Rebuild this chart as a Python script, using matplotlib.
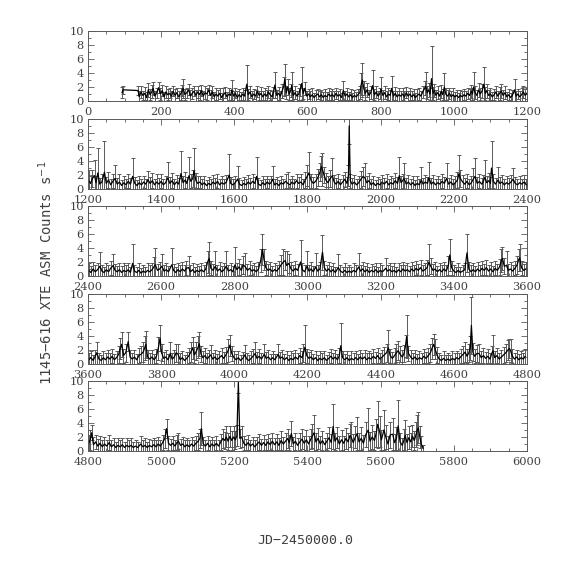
import numpy as np
import matplotlib
matplotlib.use("Agg")
import matplotlib.pyplot as plt
from matplotlib.ticker import MultipleLocator

# (JD-2450000, rate, error), one list per panel
p1 = [(93,1.2,0.8),(96,1.6,0.6),(137,1.5,0.7),(140,0.6,0.9),(145,1.3,0.8),(150,0.8,0.7),(155,1.1,0.9),(160,0.5,0.8),(165,1.6,1.0),(170,0.9,0.8),(175,1.4,0.9),(178,1.8,0.9),(183,0.7,0.8),(188,1.2,0.7),(193,1.9,0.8),(198,1.0,0.9),(203,1.5,0.8),(208,0.6,0.7),(213,1.3,0.9),(218,0.9,0.8),(223,1.1,0.7),(228,0.7,0.8),(233,1.4,0.7),(238,0.8,0.9),(243,1.2,0.7),(248,0.6,0.8),(253,1.0,0.9),(258,1.5,0.8),(260,1.8,1.4),(265,0.9,0.8),(270,1.2,0.7),(275,1.6,0.8),(280,0.7,0.9),(285,1.1,0.8),(290,1.4,0.7),(295,0.8,0.8),(300,1.3,0.9),(305,0.9,0.7),(310,1.5,0.8),(315,0.7,0.7),(320,1.2,0.9),(325,1.0,0.8),(330,1.6,0.7),(335,0.8,0.8),(340,1.3,0.9),(345,0.6,0.7),(350,1.0,0.8),(355,0.7,0.9),(360,1.1,0.8),(365,0.5,0.7),(370,0.9,0.9),(375,1.2,0.8),(380,0.6,0.7),(385,1.0,0.9),(390,0.8,0.8),(393,1.6,1.4),(398,0.7,0.8),(403,1.1,0.7),(408,0.5,0.9),(413,0.9,0.8),(418,0.6,0.7),(423,1.0,0.8),(428,0.7,0.9),(434,2.4,2.8),(438,0.9,0.8),(443,1.3,0.9),(448,0.6,0.8),(453,1.0,0.7),(458,0.7,0.9),(463,1.4,0.8),(468,0.8,0.7),(473,1.1,0.9),(478,0.6,0.8),(483,1.0,0.8),(488,0.7,0.9),(493,1.3,0.8),(498,0.9,0.7),(503,0.6,0.9),(507,1.2,0.8),(511,2.3,1.9),(516,0.8,0.8),(521,1.1,0.9),(526,0.7,0.8),(531,1.5,1.0),(535,2.1,1.4),(538,3.1,2.2),(542,1.2,0.9),(546,2.0,1.2),(550,1.0,0.8),(554,1.5,0.9),(557,2.2,2.0),(561,0.8,0.8),(566,1.2,0.9),(571,0.7,0.8),(576,1.0,0.9),(580,1.6,0.9),(584,2.5,2.4),(588,1.1,0.8),(593,1.8,0.9),(598,0.7,0.8),(603,1.0,0.7),(608,0.6,0.8),(613,0.9,0.9),(618,0.5,0.7),(623,0.8,0.8),(628,1.0,0.7),(633,0.6,0.8),(638,0.9,0.7),(643,0.5,0.8),(648,0.8,0.9),(653,0.6,0.7),(658,1.0,0.8),(663,0.7,0.7),(668,0.9,0.8),(673,0.6,0.9),(678,1.1,0.8),(683,0.7,0.7),(688,0.9,0.8),(693,0.5,0.7),(698,1.5,1.3),(703,0.7,0.8),(708,1.0,0.9),(713,0.6,0.7),(718,0.9,0.8),(723,0.5,0.7),(728,0.8,0.8),(733,0.6,0.7),(738,0.9,0.8),(743,1.2,0.9),(747,2.4,1.6),(750,3.0,2.4),(754,1.8,1.0),(758,1.1,0.9),(763,1.6,1.0),(768,0.8,0.8),(773,1.2,0.9),(778,2.2,2.3),(783,0.9,0.8),(788,1.3,0.9),(793,0.7,0.8),(798,1.1,0.8),(801,1.7,1.7),(806,0.8,0.8),(811,1.2,0.9),(816,0.6,0.8),(821,1.0,0.9),(826,0.8,0.8),(830,1.8,1.8),(835,0.7,0.8),(840,1.1,0.9),(845,0.6,0.8),(850,0.9,0.9),(855,0.7,0.8),(860,1.0,0.8),(865,0.6,0.9),(870,1.2,0.8),(875,0.7,0.7),(880,1.0,0.9),(885,0.6,0.8),(890,0.9,0.8),(895,0.5,0.7),(900,0.8,0.9),(905,1.0,0.8),(910,0.7,0.7),(915,1.3,0.9),(920,1.8,1.0),(923,2.1,2.1),(927,1.2,0.9),(931,1.6,1.0),(935,1.0,0.8),(939,3.2,4.7),(943,1.1,0.9),(947,1.5,0.9),(951,0.8,0.8),(956,1.2,0.9),(961,0.7,0.8),(966,1.4,0.9),(970,0.9,0.8),(974,2.0,2.0),(978,1.0,0.8),(983,0.7,0.9),(988,1.1,0.8),(993,0.6,0.8),(998,0.9,0.9),(1003,0.6,0.7),(1008,0.8,0.8),(1013,0.5,0.7),(1018,0.8,0.8),(1023,0.6,0.9),(1028,0.9,0.8),(1033,0.7,0.7),(1038,1.1,0.8),(1043,0.8,0.9),(1048,1.4,0.9),(1051,1.0,0.8),(1054,2.0,2.1),(1058,1.2,0.9),(1063,0.8,0.8),(1068,1.6,1.0),(1072,1.0,0.9),(1077,1.4,1.0),(1082,2.4,2.4),(1086,1.1,0.9),(1090,1.5,1.0),(1095,0.8,0.8),(1100,1.0,0.9),(1105,0.6,0.7),(1110,0.9,0.8),(1115,1.3,0.9),(1120,0.7,0.8),(1125,1.1,0.9),(1130,1.4,1.0),(1135,0.8,0.8),(1140,1.2,0.9),(1145,0.6,0.7),(1150,0.9,0.8),(1155,0.5,0.7),(1160,0.8,0.8),(1166,1.6,1.6),(1170,0.7,0.8),(1175,1.0,0.7),(1180,0.6,0.8),(1185,0.9,0.9),(1190,1.3,0.8),(1195,0.8,0.9),(1199,1.1,0.8)]

p2 = [(1202,1.2,1.5),(1207,0.8,1.0),(1212,1.5,1.2),(1218,1.9,2.2),(1222,0.9,1.0),(1227,2.3,3.5),(1232,0.7,0.9),(1238,1.0,1.1),(1245,2.4,4.4),(1250,0.8,0.9),(1256,1.3,1.2),(1262,0.6,0.8),(1268,1.1,1.0),(1274,1.5,1.9),(1280,0.7,0.9),(1286,1.0,1.1),(1292,0.5,0.8),(1298,0.9,1.0),(1304,0.6,0.8),(1310,1.1,1.0),(1316,0.7,0.9),(1322,1.8,2.6),(1328,0.8,0.9),(1334,0.5,0.8),(1340,0.9,1.0),(1346,0.6,0.8),(1352,1.0,0.9),(1358,0.7,0.8),(1364,1.3,1.3),(1370,0.8,0.9),(1376,1.2,1.1),(1382,0.6,0.8),(1388,1.0,1.2),(1394,0.7,0.9),(1400,1.1,1.0),(1406,0.6,0.8),(1412,0.9,1.0),(1418,1.6,2.3),(1424,0.8,0.9),(1430,1.2,1.1),(1436,0.6,0.9),(1442,1.0,1.0),(1448,0.7,0.9),(1454,2.2,3.2),(1460,0.9,1.0),(1466,1.3,1.1),(1470,0.8,0.9),(1476,1.9,2.7),(1481,1.1,1.0),(1486,1.5,1.2),(1490,2.6,3.3),(1495,1.2,1.1),(1500,0.8,1.0),(1506,1.0,0.9),(1512,0.6,0.8),(1518,0.9,1.0),(1524,0.5,0.8),(1530,0.8,0.9),(1536,0.6,0.8),(1542,1.0,1.0),(1548,0.7,0.9),(1554,1.1,1.0),(1560,0.6,0.8),(1566,0.9,0.9),(1572,0.7,0.8),(1578,1.0,1.0),(1586,2.0,3.0),(1590,0.8,0.9),(1596,0.6,0.8),(1602,0.9,1.0),(1609,1.4,1.9),(1614,0.7,0.9),(1620,0.5,0.8),(1626,0.8,0.9),(1632,0.6,0.8),(1638,1.0,1.0),(1644,0.7,0.9),(1650,1.1,1.0),(1656,0.8,0.9),(1661,1.8,2.8),(1666,0.7,0.9),(1672,0.5,0.8),(1678,0.9,1.0),(1684,0.6,0.8),(1690,1.0,0.9),(1696,0.7,0.8),(1700,0.9,1.0),(1705,1.4,1.9),(1710,0.6,0.8),(1716,0.8,0.9),(1722,0.5,0.8),(1728,0.9,1.0),(1734,0.7,0.8),(1740,1.1,1.0),(1746,0.8,1.6),(1752,0.6,0.8),(1758,1.0,0.9),(1764,0.7,0.8),(1770,1.2,1.0),(1776,0.8,0.9),(1782,1.0,1.1),(1788,0.6,0.8),(1794,1.3,1.1),(1800,1.9,1.5),(1804,2.3,3.0),(1810,1.2,1.0),(1816,0.8,0.9),(1822,1.1,1.0),(1828,1.6,1.2),(1834,2.4,1.3),(1838,3.2,1.5),(1841,2.8,2.3),(1845,2.0,1.2),(1850,1.3,1.0),(1856,0.9,0.9),(1862,1.5,1.2),(1868,1.9,2.6),(1873,1.0,1.0),(1878,0.7,0.9),(1884,1.1,1.0),(1890,0.6,0.8),(1896,1.0,1.0),(1902,1.4,1.1),(1908,0.8,0.9),(1912,2.0,1.5),(1914,9.0,2.5),(1917,1.2,1.0),(1922,0.7,0.9),(1928,1.0,1.0),(1934,0.6,0.8),(1940,0.9,0.9),(1946,1.4,1.2),(1952,1.8,1.3),(1957,1.6,2.1),(1962,0.9,1.0),(1968,1.2,1.1),(1974,0.6,0.8),(1980,0.9,1.0),(1986,0.5,0.8),(1992,0.8,0.9),(1998,0.6,0.8),(2004,1.0,1.0),(2010,0.7,0.9),(2016,1.1,1.0),(2022,0.6,0.8),(2028,0.9,1.0),(2034,0.7,0.9),(2040,1.2,1.1),(2046,0.8,0.9),(2051,1.9,2.7),(2056,0.9,1.0),(2060,1.2,1.0),(2064,1.5,2.2),(2070,0.7,0.9),(2076,1.0,1.0),(2082,0.6,0.8),(2088,0.9,0.9),(2094,0.5,0.8),(2100,0.8,1.0),(2106,0.6,0.8),(2111,1.3,1.9),(2116,0.7,0.9),(2122,1.0,1.0),(2128,0.8,0.9),(2132,1.6,2.2),(2138,0.7,0.9),(2144,1.0,1.0),(2150,0.6,0.8),(2156,0.9,0.9),(2162,0.7,0.8),(2168,1.1,1.0),(2174,0.8,0.9),(2180,1.5,2.2),(2186,0.7,0.9),(2192,1.0,1.0),(2198,0.6,0.8),(2204,0.9,1.0),(2210,1.3,1.1),(2214,2.2,2.7),(2218,1.5,1.2),(2224,1.0,1.0),(2230,0.7,0.9),(2236,1.1,1.0),(2242,0.6,0.8),(2248,0.9,1.0),(2253,1.4,1.6),(2258,1.8,2.6),(2264,0.8,0.9),(2270,1.1,1.0),(2276,0.7,0.9),(2280,1.0,1.0),(2285,1.7,2.5),(2290,0.9,1.0),(2296,1.2,1.1),(2300,0.8,0.9),(2303,3.0,3.9),(2308,1.1,1.0),(2314,0.7,0.9),(2321,1.3,1.8),(2326,0.8,0.9),(2332,1.0,1.0),(2338,0.6,0.8),(2344,0.9,1.0),(2350,0.7,0.9),(2356,1.0,1.0),(2362,1.4,1.6),(2368,0.8,0.9),(2374,0.6,0.8),(2380,0.9,1.0),(2386,0.7,0.8),(2392,1.0,1.0),(2398,0.6,0.9)]

p3 = [(2402,0.8,1.0),(2408,0.5,0.9),(2414,1.0,1.0),(2420,0.6,0.9),(2426,0.9,1.0),(2433,1.4,2.0),(2438,0.7,0.9),(2444,0.5,0.8),(2450,0.9,1.0),(2456,0.6,0.9),(2462,1.1,1.0),(2469,1.5,1.6),(2474,0.8,0.9),(2480,0.6,0.8),(2486,0.9,1.0),(2492,0.5,0.9),(2498,0.8,1.0),(2504,0.6,0.9),(2510,0.9,1.0),(2516,0.5,0.8),(2522,1.8,2.8),(2527,0.7,0.9),(2533,0.5,0.8),(2539,0.8,1.0),(2545,0.4,0.8),(2551,0.7,0.9),(2557,0.5,0.8),(2563,0.8,1.0),(2569,0.6,0.9),(2575,0.9,1.0),(2580,1.3,1.4),(2584,1.6,2.4),(2590,0.8,0.9),(2596,1.0,1.0),(2602,1.4,1.8),(2608,0.7,0.9),(2614,0.9,1.0),(2620,0.6,0.8),(2629,1.6,2.4),(2634,0.8,0.9),(2640,0.5,0.8),(2646,0.9,1.0),(2652,0.6,0.9),(2658,1.0,1.0),(2664,0.7,0.9),(2669,1.1,1.0),(2675,1.2,1.7),(2680,0.6,0.9),(2686,0.9,1.0),(2692,0.5,0.8),(2698,0.8,0.9),(2704,0.6,0.8),(2710,0.9,1.0),(2716,0.6,0.9),(2722,1.0,1.0),(2727,2.0,1.6),(2731,2.5,2.4),(2736,1.1,1.0),(2742,0.8,0.9),(2748,1.4,2.1),(2754,0.7,0.9),(2760,1.0,1.0),(2766,0.6,0.8),(2772,0.9,1.0),(2778,1.4,2.1),(2784,0.7,0.9),(2790,0.9,1.0),(2796,0.6,0.8),(2802,1.6,2.5),(2807,0.9,1.0),(2813,1.3,1.1),(2819,0.8,0.9),(2824,1.6,1.3),(2830,1.3,2.0),(2836,0.8,0.9),(2842,1.1,1.0),(2848,0.7,0.9),(2854,0.9,1.0),(2860,0.6,0.8),(2866,1.0,1.0),(2872,2.2,1.6),(2877,3.8,2.2),(2881,2.4,1.5),(2886,1.2,1.0),(2892,0.8,0.9),(2898,1.0,1.0),(2904,0.6,0.8),(2910,0.9,1.0),(2916,0.7,0.9),(2922,1.1,1.0),(2928,1.6,1.4),(2934,2.0,1.8),(2939,2.2,1.3),(2943,1.5,2.0),(2949,1.8,1.4),(2955,1.0,1.0),(2961,0.7,0.9),(2967,1.1,1.0),(2973,0.8,0.9),(2981,2.0,3.2),(2986,0.9,1.0),(2992,0.6,0.9),(2999,1.4,2.1),(3004,0.7,0.9),(3010,1.0,1.0),(3016,0.6,0.8),(3022,1.3,2.0),(3028,0.7,0.9),(3034,1.0,1.0),(3041,3.4,2.5),(3046,1.2,1.0),(3052,0.7,0.9),(3058,1.0,1.0),(3064,0.6,0.8),(3070,0.9,1.0),(3076,0.5,0.8),(3084,1.2,2.0),(3090,0.7,0.9),(3096,0.5,0.8),(3102,0.8,1.0),(3108,0.5,0.8),(3114,0.7,0.9),(3120,0.5,0.8),(3126,0.8,1.0),(3132,0.6,0.9),(3140,1.3,2.0),(3145,0.7,0.9),(3151,1.0,1.0),(3157,0.6,0.8),(3163,0.9,1.0),(3169,0.5,0.8),(3175,0.8,0.9),(3181,0.6,0.8),(3187,0.9,1.0),(3193,0.5,0.8),(3199,0.8,1.0),(3205,0.6,0.9),(3214,1.1,1.4),(3219,0.7,0.9),(3225,0.9,1.0),(3231,0.6,0.8),(3237,0.8,1.0),(3243,0.5,0.8),(3249,0.9,1.0),(3255,0.6,0.9),(3261,1.0,1.0),(3267,0.7,0.9),(3273,0.9,1.0),(3279,0.6,0.8),(3285,1.0,1.0),(3291,0.7,0.9),(3297,1.1,1.0),(3303,0.8,0.9),(3309,1.2,1.1),(3315,0.7,0.9),(3321,0.9,1.0),(3327,1.2,1.1),(3332,2.0,2.5),(3337,1.4,1.1),(3343,0.8,0.9),(3349,1.0,1.0),(3355,0.6,0.8),(3361,0.9,1.0),(3367,0.6,0.9),(3373,1.0,1.0),(3379,0.7,0.9),(3385,1.5,1.3),(3389,3.0,2.3),(3394,1.2,1.0),(3400,0.7,0.9),(3406,0.5,0.8),(3412,0.8,1.0),(3418,0.5,0.8),(3424,0.7,0.9),(3430,0.9,1.0),(3436,3.3,2.7),(3441,1.0,1.0),(3447,0.6,0.9),(3453,0.9,1.0),(3459,0.6,0.8),(3465,1.0,1.0),(3471,0.7,0.9),(3477,1.1,1.0),(3483,0.8,0.9),(3489,1.2,1.1),(3495,0.7,0.9),(3501,1.0,1.0),(3507,0.6,0.8),(3513,1.1,1.0),(3519,0.8,0.9),(3525,1.3,1.1),(3530,2.2,1.6),(3533,2.5,1.6),(3538,1.4,1.1),(3544,1.5,2.0),(3549,0.8,0.9),(3555,1.0,1.0),(3561,0.7,0.9),(3567,1.1,1.0),(3573,1.6,1.3),(3577,2.3,1.6),(3580,2.6,1.9),(3585,1.2,1.0),(3591,0.8,0.9),(3597,1.0,1.0)]

p4 = [(3602,0.6,0.9),(3608,0.9,1.0),(3614,0.5,0.8),(3619,1.0,1.0),(3624,1.6,1.6),(3630,0.7,0.9),(3636,0.5,0.8),(3642,0.9,1.0),(3648,0.6,0.9),(3654,1.0,1.0),(3660,0.7,0.9),(3666,1.1,1.0),(3672,0.6,0.8),(3678,0.9,1.0),(3684,1.4,1.2),(3688,2.2,1.5),(3692,2.8,1.8),(3697,1.2,1.0),(3703,1.6,1.3),(3710,3.2,1.4),(3715,1.0,1.0),(3721,0.7,0.9),(3727,1.0,1.0),(3733,0.6,0.8),(3739,1.2,1.1),(3745,1.4,1.1),(3751,1.7,1.4),(3755,2.3,1.7),(3758,2.8,1.9),(3763,1.0,1.0),(3769,0.7,0.9),(3775,1.0,1.0),(3781,0.6,0.8),(3787,1.1,1.0),(3792,2.2,1.6),(3797,3.7,1.9),(3801,1.6,1.2),(3807,0.8,0.9),(3813,1.0,1.0),(3819,0.6,0.8),(3825,1.5,1.6),(3830,0.7,0.9),(3836,1.0,1.0),(3841,1.6,1.3),(3846,1.4,1.5),(3852,0.6,0.9),(3858,0.9,1.0),(3864,0.5,0.8),(3870,0.8,0.9),(3876,1.2,1.1),(3881,1.7,1.4),(3886,2.3,1.6),(3891,1.3,1.1),(3896,1.8,1.3),(3901,2.4,1.6),(3904,2.9,1.7),(3909,1.4,1.1),(3914,0.9,1.0),(3920,1.2,1.1),(3926,0.7,0.9),(3930,1.0,1.0),(3935,1.3,1.4),(3941,0.7,0.9),(3947,1.0,1.0),(3953,0.6,0.8),(3959,0.9,1.0),(3965,1.2,1.1),(3971,0.8,0.9),(3977,1.3,1.1),(3983,1.9,1.6),(3988,2.7,1.5),(3993,1.5,1.1),(3999,0.9,1.0),(4005,0.6,0.8),(4011,0.9,1.0),(4017,0.5,0.8),(4023,0.8,0.9),(4029,1.3,1.4),(4034,0.7,0.9),(4040,0.5,0.8),(4046,0.8,1.0),(4051,1.1,1.0),(4057,1.5,1.6),(4062,0.8,0.9),(4068,1.1,1.0),(4074,0.7,0.9),(4082,1.4,1.5),(4087,0.8,0.9),(4093,1.0,1.0),(4099,0.6,0.8),(4105,0.9,1.0),(4111,0.6,0.8),(4120,1.4,1.5),(4125,0.8,0.9),(4131,1.0,1.0),(4137,0.6,0.8),(4143,0.9,1.0),(4149,0.5,0.8),(4155,0.8,1.0),(4161,0.6,0.9),(4167,1.0,1.0),(4173,0.7,0.9),(4179,1.2,1.1),(4185,0.9,1.0),(4189,1.6,1.3),(4193,2.4,3.1),(4198,1.2,1.0),(4204,0.8,0.9),(4210,1.0,1.0),(4216,0.6,0.8),(4222,0.9,1.0),(4228,0.5,0.8),(4234,0.8,1.0),(4240,0.6,0.9),(4246,0.9,1.0),(4252,0.5,0.8),(4258,0.8,0.9),(4264,1.1,1.0),(4270,0.7,0.9),(4276,1.0,1.0),(4282,0.6,0.8),(4287,1.2,1.1),(4291,2.6,3.2),(4296,0.9,1.0),(4302,0.6,0.8),(4308,0.9,1.0),(4314,0.5,0.8),(4320,0.8,1.0),(4326,0.6,0.9),(4332,0.9,1.0),(4338,0.6,0.8),(4344,1.0,1.0),(4350,0.7,0.9),(4356,1.0,1.0),(4362,0.6,0.9),(4368,0.9,1.0),(4374,0.7,0.9),(4380,1.1,1.0),(4386,0.8,0.9),(4392,1.2,1.1),(4398,0.7,0.9),(4404,1.0,1.0),(4410,1.3,1.1),(4416,1.6,1.3),(4421,2.3,2.5),(4426,1.2,1.0),(4432,0.8,0.9),(4438,1.2,1.1),(4443,1.6,1.3),(4448,1.9,1.4),(4453,1.4,1.1),(4459,1.0,1.0),(4464,1.5,1.2),(4468,2.6,1.6),(4471,3.9,3.1),(4476,1.5,1.1),(4482,1.0,1.0),(4488,0.7,0.9),(4494,1.0,1.0),(4500,0.6,0.8),(4506,0.9,1.0),(4512,0.7,0.9),(4518,1.1,1.0),(4524,0.8,0.9),(4530,1.2,1.1),(4536,1.6,1.3),(4540,2.2,1.5),(4545,2.8,1.5),(4549,2.1,1.4),(4554,1.3,1.1),(4560,0.7,0.9),(4566,0.5,0.8),(4572,0.8,1.0),(4578,0.5,0.8),(4584,0.7,0.9),(4590,0.5,0.8),(4596,0.8,1.0),(4602,0.6,0.9),(4608,0.9,1.0),(4614,0.7,0.9),(4620,1.1,1.0),(4626,1.4,1.2),(4631,1.7,1.4),(4636,1.1,1.0),(4641,1.6,1.3),(4645,2.3,1.7),(4648,5.5,4.1),(4652,1.7,1.3),(4657,1.1,1.0),(4663,1.5,1.2),(4669,1.5,1.3),(4675,0.9,1.0),(4681,1.2,1.1),(4687,0.8,0.9),(4693,1.1,1.0),(4699,0.7,0.9),(4703,1.4,1.2),(4707,1.9,2.3),(4712,0.9,1.0),(4718,1.2,1.1),(4724,0.7,0.9),(4730,1.0,1.0),(4736,1.3,1.1),(4742,1.6,1.3),(4748,2.0,1.4),(4752,2.2,1.4),(4755,1.9,1.6),(4760,1.1,1.0),(4766,0.7,0.9),(4772,1.0,1.0),(4778,0.6,0.8),(4784,0.9,1.0),(4790,0.7,0.9),(4795,1.1,1.1)]

p5 = [(4802,1.1,1.2),(4806,1.6,1.4),(4810,2.6,1.1),(4815,0.9,1.1),(4821,1.3,1.0),(4827,0.7,1.0),(4833,1.1,1.1),(4839,0.6,0.9),(4845,1.0,1.0),(4851,0.7,0.9),(4858,1.2,1.1),(4864,0.6,0.9),(4870,0.9,1.0),(4876,0.5,0.8),(4882,0.8,1.0),(4888,0.6,0.9),(4894,0.9,1.0),(4900,0.5,0.8),(4906,0.8,1.0),(4912,0.6,0.9),(4918,0.8,1.0),(4924,0.5,0.8),(4930,0.7,0.9),(4936,0.5,0.8),(4944,1.0,1.1),(4950,0.6,0.9),(4956,0.8,1.0),(4962,0.5,0.8),(4968,0.8,0.9),(4974,0.6,0.9),(4980,0.9,1.0),(4986,0.6,0.9),(4992,1.0,1.0),(4998,0.7,0.9),(5004,1.2,1.1),(5010,1.8,1.4),(5015,3.2,1.4),(5020,1.1,1.0),(5026,0.8,0.9),(5032,1.1,1.0),(5038,0.7,0.9),(5043,1.2,1.1),(5047,1.4,1.1),(5053,0.8,0.9),(5059,1.0,1.0),(5065,0.6,0.9),(5071,0.9,1.0),(5077,0.6,0.9),(5083,1.0,1.0),(5089,0.7,0.9),(5095,1.1,1.0),(5101,1.4,1.2),(5106,1.8,1.4),(5110,3.2,2.3),(5115,1.0,1.0),(5121,0.7,0.9),(5127,1.1,1.0),(5133,0.6,0.9),(5139,1.0,1.0),(5145,0.7,0.9),(5151,1.1,1.0),(5157,0.7,0.9),(5163,1.3,1.1),(5169,1.8,1.4),(5174,1.5,1.2),(5178,2.0,1.5),(5183,1.4,1.2),(5188,2.1,1.5),(5193,1.5,1.3),(5198,2.0,1.5),(5203,1.6,1.3),(5207,2.2,1.5),(5211,9.8,1.5),(5215,1.8,1.4),(5220,2.0,1.5),(5226,1.1,1.0),(5232,0.8,0.9),(5238,1.2,1.1),(5244,0.7,0.9),(5250,1.0,1.0),(5256,0.6,0.9),(5262,1.0,1.0),(5268,1.3,1.1),(5274,0.8,0.9),(5280,1.2,1.1),(5286,0.8,0.9),(5292,1.3,1.1),(5298,0.9,1.0),(5304,1.4,1.2),(5310,0.9,1.0),(5316,1.3,1.1),(5322,0.8,1.0),(5328,1.5,1.3),(5334,1.0,1.0),(5340,1.4,1.2),(5346,1.8,1.4),(5350,1.2,1.1),(5356,2.5,1.8),(5361,1.0,1.0),(5367,1.4,1.2),(5373,0.8,1.0),(5379,1.3,1.2),(5385,1.7,1.4),(5391,1.1,1.1),(5397,1.6,1.4),(5403,1.0,1.1),(5409,1.7,1.4),(5413,2.1,1.7),(5418,2.6,2.6),(5423,1.3,1.2),(5429,1.8,1.5),(5435,1.0,1.1),(5441,1.5,1.3),(5447,0.9,1.0),(5453,1.4,1.2),(5459,1.9,1.5),(5465,1.2,1.2),(5470,3.5,3.2),(5475,1.4,1.2),(5481,1.9,1.5),(5487,1.0,1.1),(5493,1.6,1.4),(5499,1.1,1.1),(5505,1.8,1.5),(5511,1.3,1.3),(5516,2.2,1.7),(5520,1.9,2.2),(5525,1.2,1.2),(5531,2.0,1.6),(5536,2.5,2.3),(5541,1.3,1.2),(5547,1.8,1.6),(5553,1.1,1.2),(5559,2.3,1.8),(5566,3.0,3.1),(5571,1.4,1.3),(5577,2.0,1.7),(5583,1.5,1.4),(5588,2.6,2.0),(5592,3.8,3.4),(5597,2.8,2.2),(5602,1.6,1.4),(5609,3.0,2.9),(5614,2.0,1.7),(5620,1.0,1.2),(5626,2.3,1.9),(5633,2.4,2.3),(5638,1.2,1.2),(5643,1.8,1.6),(5648,3.6,3.7),(5653,1.3,1.3),(5659,0.8,1.1),(5664,1.6,1.5),(5667,2.2,2.2),(5672,1.2,1.2),(5677,1.9,1.6),(5682,1.3,1.3),(5687,2.1,1.6),(5692,1.5,1.4),(5697,2.4,1.8),(5700,3.0,2.2),(5703,3.3,2.2),(5707,2.0,1.6),(5711,1.0,1.1),(5716,0.4,0.5)]

x_ranges = [(0, 1200), (1200, 2400), (2400, 3600), (3600, 4800), (4800, 6000)]
panels = [p1, p2, p3, p4, p5]
y_ticks = [0, 2, 4, 6, 8, 10]

fig = plt.figure(figsize=(5.74, 5.74), dpi=100)
bottoms = [0.824, 0.6707, 0.5192, 0.3659, 0.2143]
tick_font = "DejaVu Serif"
for (lo, hi), data, b in zip(x_ranges, panels, bottoms):
    ax = fig.add_axes([0.1533, b, 0.7648, 0.122])
    t, v, e = (np.array(c) for c in zip(*data))
    ax.errorbar(t, v, yerr=e, fmt='-', color='black', lw=0.9,
                ecolor='0.35', elinewidth=0.7, capsize=1.6, capthick=0.7)
    ax.set_xlim(lo, hi)
    ax.set_ylim(0, 10)
    ax.set_yticks(y_ticks)
    ax.xaxis.set_major_locator(MultipleLocator(200))
    ax.xaxis.set_minor_locator(MultipleLocator(50))
    ax.yaxis.set_minor_locator(MultipleLocator(1))
    ax.tick_params(which='both', direction='in', top=True, right=True,
                   color='0.35', width=0.6)
    ax.tick_params(which='major', length=4.5)
    ax.tick_params(which='minor', length=2.2)
    ax.tick_params(axis='x', pad=4)
    ax.tick_params(axis='y', pad=3)
    for lab in ax.get_xticklabels() + ax.get_yticklabels():
        lab.set_fontfamily(tick_font)
        lab.set_fontsize(8.2)
        lab.set_color('0.25')
    for s in ax.spines.values():
        s.set_color('0.35')
        s.set_linewidth(0.7)

fig.text(0.079, 0.524, "1145\u2212616 XTE ASM Counts s$^{-1}$", rotation=90,
         ha='center', va='center', fontsize=10, family='DejaVu Sans Mono',
         color='0.25')
fig.text(0.532, 0.059, "JD\u22122450000.0", ha='center', va='center',
         fontsize=9.5, family='DejaVu Sans Mono', color='0.25')

fig.savefig("out.png", dpi=100)
